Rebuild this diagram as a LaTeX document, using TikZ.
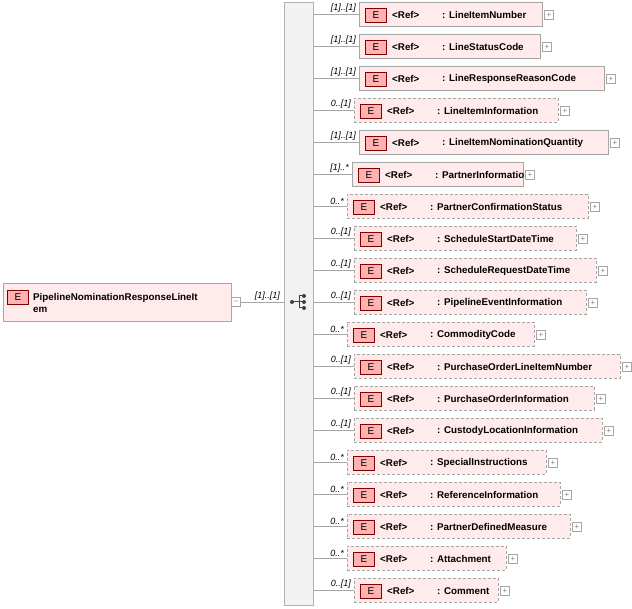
\documentclass[tikz,border=0pt]{standalone}
\usepackage{fontspec}
\setmainfont{Liberation Sans}
\begin{document}
\begin{tikzpicture}[x=1pt,y=-1pt,
  elem/.style={draw=gray!70,fill=red!8,minimum height=24pt,inner sep=0pt,anchor=west},
  opt/.style={elem,dashed,dash pattern=on 3pt off 2pt},
  ebox/.style={draw=red!50!black,fill=red!30,minimum width=21pt,minimum height=14pt,inner sep=0pt,font=\fontsize{10}{11}\selectfont},
  txt/.style={font=\bfseries\fontsize{9.8}{12}\selectfont,anchor=west,inner sep=0pt},
  card/.style={font=\itshape\fontsize{9}{10}\selectfont,anchor=south east,inner sep=1pt},
  plus/.style={draw=gray!70,fill=white,minimum size=9pt,inner sep=0pt,font=\fontsize{8}{8}\selectfont,text=gray},
  ln/.style={draw=gray!70}]
\useasboundingbox (0,0) rectangle (632,609);
\node[draw=gray!60,fill=gray!10,minimum width=29pt,minimum height=603pt,anchor=north west,inner sep=0pt] (seq) at (284,2) {};
\node[draw=gray!70,fill=red!8,anchor=north west,minimum width=228pt,minimum height=38pt,inner sep=0pt] (root) at (3,283) {};
\node[ebox] (re) at (18,297) {E};
\node[txt,align=left] (rt) at (33,303) {PipelineNominationResponseLineIt\\em};
\node[plus] (rm) at (236,302) {--};
\draw[ln] (rm.east) -- (seq.west |- rm.east);
\node[card] at (281,302) {[1]..[1]};
\foreach \dy in {-6,0,6}{\fill[black!75] (304,302+\dy) circle (2pt);}
\fill[black!75] (292,302) circle (2pt);
\draw[black!75,line width=1pt] (292,302)--(299,302) (299,296)--(299,308) (299,296)--(304,296) (299,308)--(304,308) (299,302)--(304,302);
\foreach \i/\l/\r/\st/\c/\n in {
 1/359/542/elem/{[1]..[1]}/LineItemNumber,
 2/359/540/elem/{[1]..[1]}/LineStatusCode,
 3/359/604/elem/{[1]..[1]}/LineResponseReasonCode,
 4/354/558/opt/{0..[1]}/LineItemInformation,
 5/359/608/elem/{[1]..[1]}/LineItemNominationQuantity,
 6/352/523/elem/{[1]..*}/PartnerInformation,
 7/347/588/opt/{0..*}/PartnerConfirmationStatus,
 8/354/576/opt/{0..[1]}/ScheduleStartDateTime,
 9/354/596/opt/{0..[1]}/ScheduleRequestDateTime,
 10/354/586/opt/{0..[1]}/PipelineEventInformation,
 11/347/534/opt/{0..*}/CommodityCode,
 12/354/620/opt/{0..[1]}/PurchaseOrderLineItemNumber,
 13/354/594/opt/{0..[1]}/PurchaseOrderInformation,
 14/354/602/opt/{0..[1]}/CustodyLocationInformation,
 15/347/546/opt/{0..*}/SpecialInstructions,
 16/347/560/opt/{0..*}/ReferenceInformation,
 17/347/570/opt/{0..*}/PartnerDefinedMeasure,
 18/347/506/opt/{0..*}/Attachment,
 19/354/498/opt/{0..[1]}/Comment}{
 \pgfmathsetmacro\yy{14+32*(\i-1)}
 \pgfmathsetmacro\ww{\r-\l}
 \node[\st,minimum width=\ww pt] (b\i) at (\l,\yy) {};
 \node[ebox] (e\i) at (\l+17,\yy+1) {E};
 \node[txt] (r\i) at (\l+33,\yy+1) {<Ref>};
 \node[txt] (n\i) at (\l+83,\yy+1) {: \n};
 \node[plus] (p\i) at (\r+7,\yy+1) {+};
 \draw[ln] (seq.east |- b\i.west) -- (b\i.west);
 \node[card] at (\l-2,\yy) {\c};
}
\end{tikzpicture}
\end{document}
